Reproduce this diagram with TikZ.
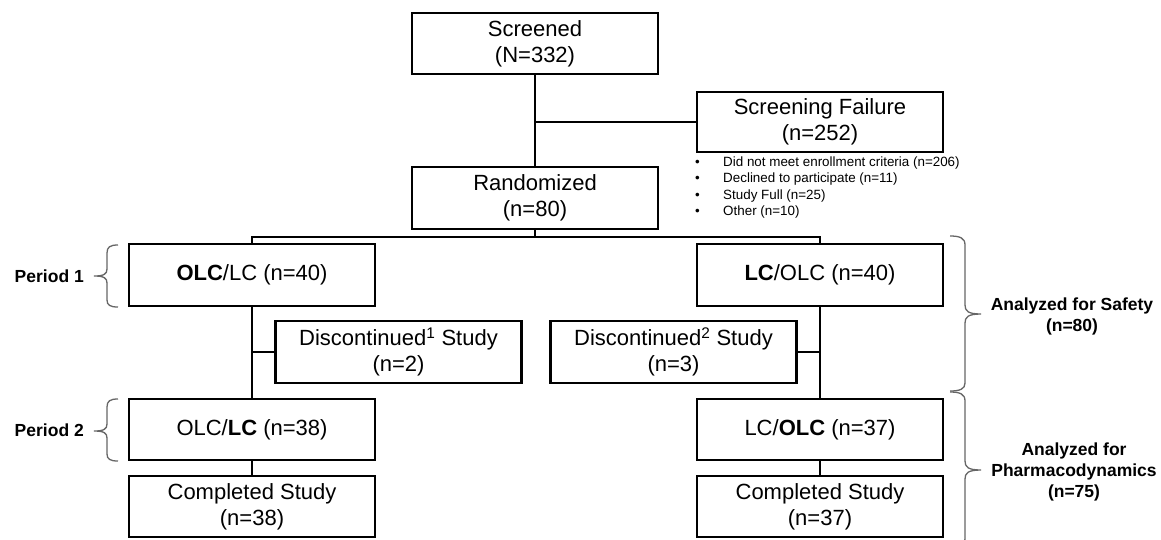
\documentclass[tikz,border=0pt]{standalone}
\usepackage{fontspec}
\setmainfont{Liberation Sans}
\begin{document}
\begin{tikzpicture}[x=1pt,y=-1pt,
  box/.style={draw, line width=2.2pt, minimum width=246pt, minimum height=62pt, inner sep=0pt, align=center, font=\fontsize{22}{26}\selectfont},
  conn/.style={line width=2.2pt},
  brc/.style={draw=black!60, line width=1.3pt},
  lab/.style={font=\bfseries\fontsize{17.5}{21}\selectfont, inner sep=0pt, align=center},
  bul/.style={font=\fontsize{13.4}{16}\selectfont, inner sep=0pt, anchor=base west}]
\useasboundingbox (0,0) rectangle (1161,539);
\clip (0,0) rectangle (1161,539);
% boxes
\node[box, minimum height=61pt] (scr) at (535,43.5) {Screened\\(N=332)};
\node[box, minimum height=60pt] (sf) at (820,122) {Screening Failure\\(n=252)};
\node[box] (rand) at (535,198) {Randomized\\(n=80)};
\node[box] (p1l) at (252,275) {\textbf{OLC}/LC (n=40)};
\node[box] (p1r) at (820,275) {\textbf{LC}/OLC (n=40)};
\node[box] (d1) at (398.5,352) {Discontinued\textsuperscript{1} Study\\(n=2)};
\node[box] (d2) at (673.5,352) {Discontinued\textsuperscript{2} Study\\(n=3)};
\node[box, minimum height=61pt] (p2l) at (252,429.5) {OLC/\textbf{LC} (n=38)};
\node[box, minimum height=61pt] (p2r) at (820,429.5) {LC/\textbf{OLC} (n=37)};
\node[box, minimum height=61pt] (c1) at (252,506.5) {Completed Study\\(n=38)};
\node[box, minimum height=61pt] (c2) at (820,506.5) {Completed Study\\(n=37)};
% bullet list
\node[bul] (k1) at (695,166.5) {•};
\node[bul] (k2) at (695,182.8) {•};
\node[bul] (k3) at (695,199.1) {•};
\node[bul] (k4) at (695,215.4) {•};
\node[bul] (b1) at (723,166.5) {Did not meet enrollment criteria (n=206)};
\node[bul] (b2) at (723,182.8) {Declined to participate (n=11)};
\node[bul] (b3) at (723,199.1) {Study Full (n=25)};
\node[bul] (b4) at (723,215.4) {Other (n=10)};
% connectors
\coordinate (split) at (535,237);
\draw[conn] (scr.south) -- (rand.north);
\draw[conn] (scr.south |- sf.west) -- (sf.west);
\draw[conn] (rand.south) -- (split);
\draw[conn] (p1l.north) |- (split) -| (p1r.north);
\draw[conn] (p1l.south) -- (p2l.north);
\draw[conn] (p1r.south) -- (p2r.north);
\draw[conn] (d1.west) -- (d1.west -| p1l.south);
\draw[conn] (d2.east) -- (d2.east -| p1r.south);
\draw[conn] (p2l.south) -- (c1.north);
\draw[conn] (p2r.south) -- (c2.north);
% left braces and labels
\node[lab, anchor=east] (per1) at (84,276) {Period 1};
\node[lab, anchor=east] (per2) at (84,430) {Period 2};
\draw[brc] (118,245) .. controls (110,245) and (107,247) .. (107,253) -- (107,269) .. controls (107,274) and (104,276) .. (94,276) .. controls (104,276) and (107,278) .. (107,283) -- (107,300) .. controls (107,305) and (110,307) .. (118,307);
\draw[brc] (118,399) .. controls (110,399) and (107,401) .. (107,407) -- (107,424) .. controls (107,429) and (104,431) .. (94,431) .. controls (104,431) and (107,433) .. (107,438) -- (107,454) .. controls (107,459) and (110,461) .. (118,461);
% right braces and labels
\draw[brc] (950,236) .. controls (960,236) and (965,238) .. (965,245) -- (965,305) .. controls (965,311) and (968,314) .. (981,314) .. controls (968,314) and (965,317) .. (965,323) -- (965,383) .. controls (965,389) and (960,391) .. (950,391);
\draw[brc] (950,392) .. controls (960,392) and (965,394) .. (965,401) -- (965,461) .. controls (965,467) and (968,470) .. (981,470) .. controls (968,470) and (965,473) .. (965,479) -- (965,539) .. controls (965,545) and (960,548) .. (950,548);
\node[lab] (saf) at (1072,316) {Analyzed for Safety\\(n=80)};
\node[lab] (pd) at (1074,472) {Analyzed for\\Pharmacodynamics\\(n=75)};
\end{tikzpicture}
\end{document}
